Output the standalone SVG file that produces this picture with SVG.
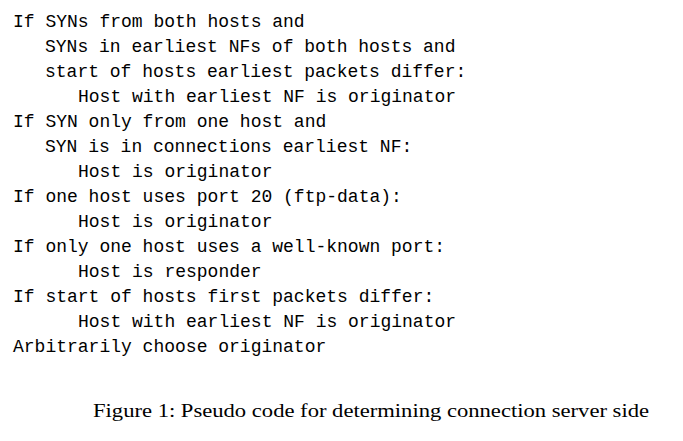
<svg xmlns="http://www.w3.org/2000/svg" width="683" height="441" viewBox="0 0 683 441">
<style>
.c{font-family:"Liberation Mono","DejaVu Sans Mono",monospace;font-size:18px;fill:#000;white-space:pre}
.f{font-family:"Liberation Serif","DejaVu Serif",serif;font-size:19px;fill:#000}
</style>
<rect width="683" height="441" fill="#fff"/>
<g id="code">
<text class="c" x="13" y="27">If SYNs from both hosts and</text>
<text class="c" x="45" y="52">SYNs in earliest NFs of both hosts and</text>
<text class="c" x="45" y="77">start of hosts earliest packets differ:</text>
<text class="c" x="78" y="102">Host with earliest NF is originator</text>
<text class="c" x="13" y="127">If SYN only from one host and</text>
<text class="c" x="45" y="152">SYN is in connections earliest NF:</text>
<text class="c" x="78" y="177">Host is originator</text>
<text class="c" x="13" y="202">If one host uses port 20 (ftp-data):</text>
<text class="c" x="78" y="227">Host is originator</text>
<text class="c" x="13" y="252">If only one host uses a well-known port:</text>
<text class="c" x="78" y="277">Host is responder</text>
<text class="c" x="13" y="302">If start of hosts first packets differ:</text>
<text class="c" x="78" y="327">Host with earliest NF is originator</text>
<text class="c" x="13" y="352">Arbitrarily choose originator</text>
</g>
<g id="caption">
<text class="f" x="93" y="417" textLength="556" lengthAdjust="spacingAndGlyphs">Figure 1: Pseudo code for determining connection server side</text>
</g>
</svg>
